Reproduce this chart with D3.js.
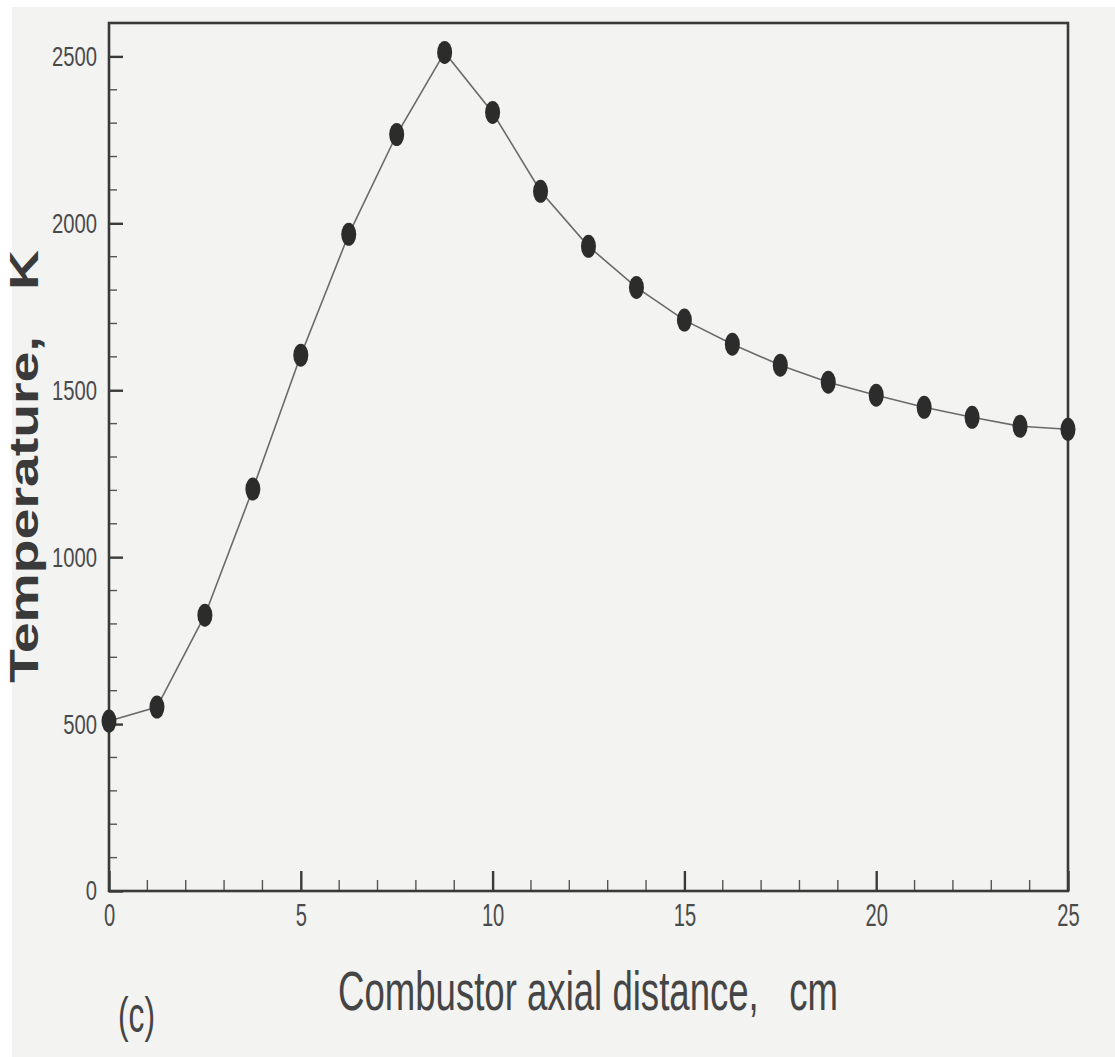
<!DOCTYPE html>
<html>
<head>
<meta charset="utf-8">
<script src="https://cdn.jsdelivr.net/npm/d3@7"></script>
<style>
  html, body { margin: 0; padding: 0; background: #ffffff; }
  svg { display: block; }
  text { font-family: "Liberation Sans", Arial, sans-serif; white-space: pre; }
</style>
</head>
<body>
<svg id="chart" width="1115" height="1057"></svg>
<script>
// ---- data ----
const distance = [0, 1.25, 2.5, 3.75, 5, 6.25, 7.5, 8.75, 10, 11.25, 12.5, 13.75, 15, 16.25, 17.5, 18.75, 20, 21.25, 22.5, 23.75, 25];
const temperature = [509, 551, 826, 1204, 1605, 1967, 2266, 2512, 2332, 2096, 1931, 1808, 1710, 1638, 1575, 1524, 1485, 1449, 1419, 1392, 1383];
const xTicks = [0, 5, 10, 15, 20, 25];
const yTicks = [0, 500, 1000, 1500, 2000, 2500];
const xMinorTicks = d3.range(1, 25, 1).filter(v => v % 5 !== 0);
const yMinorTicks = d3.range(100, 2600, 100).filter(v => v % 500 !== 0);
const xTitle = "Combustor axial distance,   cm";
const yTitle = "Temperature,   K";
const panelLabel = "(c)";

// ---- layout ----
const W = 1115, H = 1057;
const plot = { left: 109, right: 1068, top: 23, bottom: 891 };
const svg = d3.select("#chart");

// scanned paper background with white scan borders
svg.append("rect").attr("x", 0).attr("y", 0).attr("width", W).attr("height", H).attr("fill", "#f3f3f2");
svg.append("rect").attr("x", 0).attr("y", 0).attr("width", 12).attr("height", H).attr("fill", "#ffffff");
svg.append("rect").attr("x", 0).attr("y", 0).attr("width", W).attr("height", 7).attr("fill", "#ffffff");

const x = d3.scaleLinear().domain([0, 25]).range([plot.left, plot.right]);
const y = d3.scaleLinear().domain([0, 2600]).range([plot.bottom, plot.top]);

const inkText = "#4a4a4a";
const inkLine = "#3a3a3a";

// minor ticks
const gMinor = svg.append("g").attr("stroke", "#555").attr("stroke-width", 1.4);
gMinor.selectAll("line.xm").data(xMinorTicks).join("line")
  .attr("x1", d => x(d)).attr("x2", d => x(d))
  .attr("y1", plot.bottom).attr("y2", plot.bottom - 11);
gMinor.selectAll("line.ym").data(yMinorTicks).join("line")
  .attr("y1", d => y(d)).attr("y2", d => y(d))
  .attr("x1", plot.left).attr("x2", plot.left + 8);

// major axes
const xAxis = d3.axisBottom(x).tickValues(xTicks).tickFormat(d3.format("d"))
  .tickSizeInner(-20).tickSizeOuter(0).tickPadding(13);
const yAxis = d3.axisLeft(y).tickValues(yTicks).tickFormat(d3.format("d"))
  .tickSizeInner(-14).tickSizeOuter(0).tickPadding(12);

const gx = svg.append("g").attr("transform", `translate(0,${plot.bottom})`).call(xAxis);
const gy = svg.append("g").attr("transform", `translate(${plot.left},0)`).call(yAxis);
[gx, gy].forEach(g => {
  g.attr("font-size", null).attr("font-family", null);
  g.select(".domain").remove();
  g.selectAll(".tick line").attr("stroke", inkLine).attr("stroke-width", 2.4);
});
gx.selectAll(".tick text")
  .attr("fill", inkText).style("font-size", "31px")
  .attr("textLength", d => String(d).length * 11.2).attr("lengthAdjust", "spacingAndGlyphs");
gy.selectAll(".tick text")
  .attr("fill", inkText).style("font-size", "28px")
  .attr("textLength", d => String(d).length * 11.25).attr("lengthAdjust", "spacingAndGlyphs");

// frame
svg.append("rect")
  .attr("x", plot.left).attr("y", plot.top)
  .attr("width", plot.right - plot.left).attr("height", plot.bottom - plot.top)
  .attr("fill", "none").attr("stroke", inkLine).attr("stroke-width", 2.6);

// line
const line = d3.line().x((d, i) => x(distance[i])).y(d => y(d)).curve(d3.curveLinear);
svg.append("path").datum(temperature)
  .attr("d", line).attr("fill", "none").attr("stroke", "#6a6a6a").attr("stroke-width", 1.6);

// markers
svg.append("g").selectAll("ellipse").data(temperature).join("ellipse")
  .attr("cx", (d, i) => x(distance[i])).attr("cy", d => y(d))
  .attr("rx", 7.5).attr("ry", 11.5).attr("fill", "#2c2c2c");

// x title
svg.append("text")
  .attr("transform", "translate(338,1010) scale(1,1.5)")
  .style("font-size", "37px").attr("fill", "#454545")
  .attr("textLength", 500).attr("lengthAdjust", "spacingAndGlyphs")
  .text(xTitle);

// y title
svg.append("text")
  .attr("transform", "translate(38,683) rotate(-90)")
  .style("font-size", "40px").style("font-weight", "bold").attr("fill", "#3a3a3a")
  .attr("textLength", 433).attr("lengthAdjust", "spacingAndGlyphs")
  .text(yTitle);

// panel label
svg.append("text")
  .attr("transform", "translate(118,1032) scale(1,1.5)")
  .style("font-size", "33px").attr("fill", "#454545")
  .attr("textLength", 37).attr("lengthAdjust", "spacingAndGlyphs")
  .text(panelLabel);
</script>
</body>
</html>
